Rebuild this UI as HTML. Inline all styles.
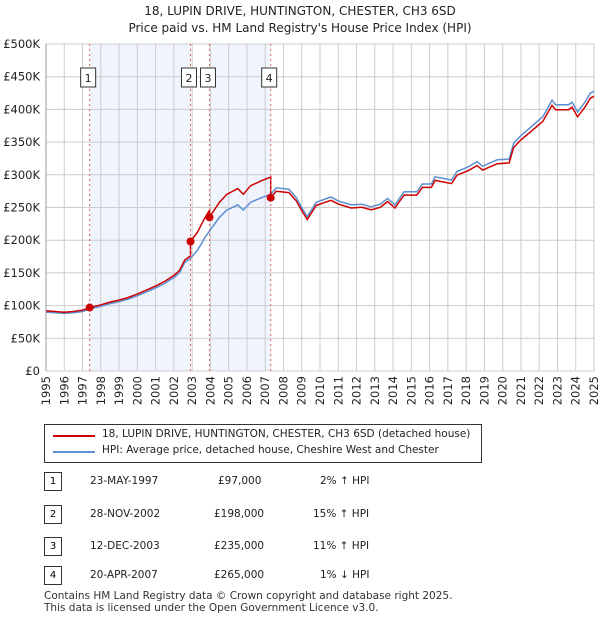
<!DOCTYPE html>
<html><head><meta charset="utf-8"><style>
body{margin:0;background:#fff;font-family:"DejaVu Sans","Liberation Sans",sans-serif;}
#wrap{position:relative;width:600px;height:620px;overflow:hidden;}
.t{position:absolute;font-size:11px;color:#222;white-space:nowrap}
.box{position:absolute;border:1px solid #333;width:16px;height:17px;text-align:center;font-size:10px;line-height:17px}
</style></head><body><div id="wrap">
<div class="t" style="left:0;width:600px;text-align:center;top:4px;font-size:12px">18, LUPIN DRIVE, HUNTINGTON, CHESTER, CH3 6SD</div>
<div class="t" style="left:0;width:600px;text-align:center;top:21px;font-size:12px">Price paid vs. HM Land Registry's House Price Index (HPI)</div>
<svg id="chart" width="600" height="420" style="position:absolute;left:0;top:0;font-family:'DejaVu Sans','Liberation Sans',sans-serif"></svg>
<div style="position:absolute;left:44px;top:424px;width:436px;height:37px;border:1px solid #333">
<svg width="60" height="37" style="position:absolute;left:0;top:0"><line x1="8" y1="11" x2="50" y2="11" stroke="#cc0000" stroke-width="2"/><line x1="8" y1="27" x2="50" y2="27" stroke="#5b8fd0" stroke-width="2"/></svg>
<div class="t" style="left:57px;top:3px;font-size:10.5px">18, LUPIN DRIVE, HUNTINGTON, CHESTER, CH3 6SD (detached house)</div>
<div class="t" style="left:57px;top:19px;font-size:10.5px">HPI: Average price, detached house, Cheshire West and Chester</div>
</div>
<div>
<div class="box" style="left:44px;top:472px">1</div><div class="t" style="left:90px;top:475px;font-size:10.5px">23-MAY-1997</div><div class="t" style="left:218px;top:475px;font-size:10.5px">£97,000</div><div class="t" style="left:320px;top:475px;font-size:10.5px">2% ↑ HPI</div>
<div class="box" style="left:44px;top:505px">2</div><div class="t" style="left:90px;top:508px;font-size:10.5px">28-NOV-2002</div><div class="t" style="left:214px;top:508px;font-size:10.5px">£198,000</div><div class="t" style="left:313px;top:508px;font-size:10.5px">15% ↑ HPI</div>
<div class="box" style="left:44px;top:537px">3</div><div class="t" style="left:90px;top:540px;font-size:10.5px">12-DEC-2003</div><div class="t" style="left:214px;top:540px;font-size:10.5px">£235,000</div><div class="t" style="left:313px;top:540px;font-size:10.5px">11% ↑ HPI</div>
<div class="box" style="left:44px;top:566px">4</div><div class="t" style="left:90px;top:569px;font-size:10.5px">20-APR-2007</div><div class="t" style="left:214px;top:569px;font-size:10.5px">£265,000</div><div class="t" style="left:320px;top:569px;font-size:10.5px">1% ↓ HPI</div>
</div>
<div class="t" style="left:44px;top:590px;font-size:10.5px;line-height:12px;color:#333">Contains HM Land Registry data © Crown copyright and database right 2025.<br>This data is licensed under the Open Government Licence v3.0.</div>
</div>
<script>
const hpiDates=[1995.0,1995.5,1996,1996.5,1997,1997.4,1998,1998.5,1999,1999.5,2000,2000.5,2001,2001.5,2002,2002.3,2002.6,2002.9,2003.3,2003.7,2004.0,2004.5,2004.9,2005.5,2005.8,2006.2,2006.8,2007.3,2007.6,2008.3,2008.7,2009.0,2009.3,2009.8,2010.6,2011.0,2011.7,2012.3,2012.8,2013.3,2013.7,2014.1,2014.6,2015.3,2015.6,2016.1,2016.3,2017.2,2017.5,2018.1,2018.6,2018.9,2019.7,2020.35,2020.6,2021.0,2021.5,2022.2,2022.7,2022.9,2023.6,2023.8,2024.1,2024.5,2024.8,2025.0];
const hpiValues=[90,89,88,89,91,95,99,103,106,110,115,121,127,134,143,150,166,172,185,204,216,235,246,254,246,258,265,270,280,278,265,250,236,258,266,260,254,255,251,255,264,254,274,274,286,286,297,292,305,312,320,313,323,324,348,360,372,389,414,407,407,411,396,411,425,428];
const saleDates=[1997.39,2002.91,2003.95,2007.30];
const salePrices=[97,198,235,265];
const saleLabels=["1","2","3","4"];
const yTicks=[0,50,100,150,200,250,300,350,400,450,500];
const yTickLabels=["£0","£50K","£100K","£150K","£200K","£250K","£300K","£350K","£400K","£450K","£500K"];
const xYears=[1995,1996,1997,1998,1999,2000,2001,2002,2003,2004,2005,2006,2007,2008,2009,2010,2011,2012,2013,2014,2015,2016,2017,2018,2019,2020,2021,2022,2023,2024,2025];

const X0=46,X1=594,Y0=371,Y1=44;
const xs=t=>X0+(t-1995)/30*(X1-X0);
const ys=v=>Y0-v/500*(Y0-Y1);
const svg=document.getElementById('chart');const NS='http://www.w3.org/2000/svg';
function mk(tag,at,p){const e=document.createElementNS(NS,tag);for(const k in at)e.setAttribute(k,at[k]);(p||svg).appendChild(e);return e;}
function hpiAt(t){for(let i=1;i<hpiDates.length;i++){if(t<=hpiDates[i]){const f=(t-hpiDates[i-1])/(hpiDates[i]-hpiDates[i-1]);return hpiValues[i-1]+f*(hpiValues[i]-hpiValues[i-1]);}}return hpiValues[hpiValues.length-1];}
for(const [a,b] of [[0,1],[2,3]]){const r=mk('rect',{x:xs(saleDates[a]),y:Y1,width:xs(saleDates[b])-xs(saleDates[a]),height:Y0-Y1,fill:'#f0f4fd'});

}
yTicks.forEach((v,i)=>{const l=mk('line',{x1:X0,x2:X1,y1:ys(v),y2:ys(v),stroke:'#ccc'});


const t=mk('text',{x:40,y:ys(v)+4,'text-anchor':'end','font-size':11.5,fill:'#222'});t.textContent=yTickLabels[i];

});
xYears.forEach(y=>{const l=mk('line',{x1:xs(y),x2:xs(y),y1:Y1,y2:Y0,stroke:'#ccc'});


const t=mk('text',{x:0,y:0,'text-anchor':'end','font-size':11.5,fill:'#222',transform:`translate(${xs(y)+4},${Y0+5}) rotate(-90)`});t.textContent=y;

});
let d=hpiDates.map((t,i)=>(i?'L':'M')+xs(t).toFixed(1)+','+ys(hpiValues[i]).toFixed(1)).join('');
const hl=mk('path',{d,fill:'none',stroke:'#5b8fd0','stroke-width':1.5});


const ratios=saleDates.map((t,i)=>salePrices[i]/hpiAt(t));
function ratioAt(t){let r=ratios[0];saleDates.forEach((s,i)=>{if(t>=s)r=ratios[i];});return r;}
let pts=[];const all=[...hpiDates,...saleDates].sort((a,b)=>a-b);
all.forEach(t=>{const idx=saleDates.indexOf(t);if(idx>0)pts.push([t,hpiAt(t)*ratios[idx-1]]);pts.push([t,hpiAt(t)*ratioAt(t)]);});
d=pts.map((p,i)=>(i?'L':'M')+xs(p[0]).toFixed(1)+','+ys(p[1]).toFixed(1)).join('');
const pl=mk('path',{d,fill:'none',stroke:'#cc0000','stroke-width':1.5});


saleDates.forEach((t,i)=>{const l=mk('line',{x1:xs(t),x2:xs(t),y1:Y1,y2:Y0,stroke:'#e06060','stroke-dasharray':'2,3'});


const c=mk('circle',{cx:xs(t),cy:ys(salePrices[i]),r:4,fill:'#cc0000'});


const r=mk('rect',{x:xs(t)-9,y:68,width:15,height:19,fill:'#fff',stroke:'#333'});


const tx=mk('text',{x:xs(t)-1.5,y:82,'text-anchor':'middle','font-size':11,fill:'#222'});tx.textContent=saleLabels[i];

});
mk('line',{x1:X0,x2:X0,y1:Y1,y2:Y0,stroke:'#999'});
</script></body></html>
